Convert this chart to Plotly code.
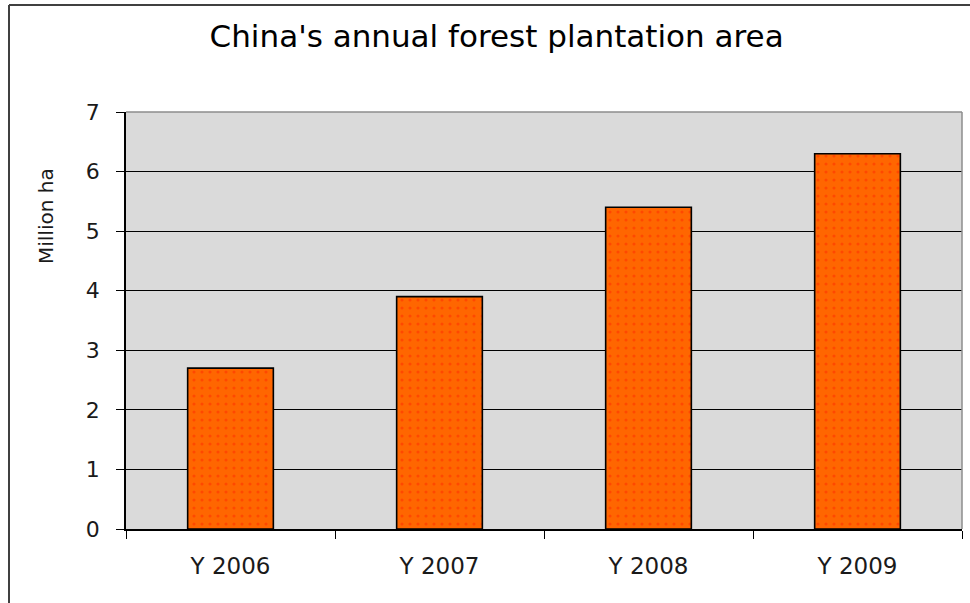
import plotly.graph_objects as go

categories = ["Y 2006", "Y 2007", "Y 2008", "Y 2009"]
values = [2.7, 3.9, 5.4, 6.3]
y_ticks = [0, 1, 2, 3, 4, 5, 6, 7]

fig = go.Figure()
fig.add_trace(go.Bar(
    x=categories, y=values,
    marker=dict(color="#FF6600", line=dict(color="#000000", width=1.6),
                pattern=dict(shape=".", fgcolor="#FF2A00", bgcolor="#FF6600", size=8, solidity=0.12)),
    width=0.41,
    hoverinfo="x+y",
))

pw, ph = 970 - 126 - 8, 603 - 112 - 74

fig.update_layout(
    width=970, height=603,
    margin=dict(l=126, r=8, t=112, b=74),
    paper_bgcolor="white",
    plot_bgcolor="#dadada",
    showlegend=False,
    title=dict(text="China's annual forest plantation area", x=0.512, xanchor="center",
               y=0.94, yanchor="middle",
               font=dict(family="DejaVu Sans", size=31, color="#000000")),
    xaxis=dict(showgrid=False, showline=True, linecolor="#000000", linewidth=1.5,
               ticks="outside", ticklen=8, tickcolor="#000000", tickson="boundaries",
               ticklabelstandoff=16,
               tickfont=dict(family="DejaVu Sans", size=23, color="#1a1a1a"),
               zeroline=False),
    yaxis=dict(range=[0, 7], tickvals=y_ticks, showgrid=True, gridcolor="#000000", gridwidth=1,
               showline=True, linecolor="#000000", linewidth=1.5,
               ticks="outside", ticklen=8, tickcolor="#000000",
               ticklabelstandoff=12,
               tickfont=dict(family="DejaVu Sans", size=22, color="#1a1a1a"),
               zeroline=False),
    annotations=[dict(text="Million ha", textangle=-90,
                      x=(46 - 126) / pw, y=(603 - 74 - 216) / ph, xref="paper", yref="paper",
                      xanchor="center", yanchor="middle",
                      showarrow=False, font=dict(family="DejaVu Sans", size=20, color="#1a1a1a"))],
)

# plot-area top/right border (gray) and outer chart frame
fig.add_shape(type="line", xref="paper", yref="paper", x0=0, x1=1, y0=1, y1=1,
              line=dict(color="#8c8c8c", width=1.5), layer="above")
fig.add_shape(type="line", xref="paper", yref="paper", x0=1, x1=1, y0=0, y1=1,
              line=dict(color="#8c8c8c", width=1.5), layer="above")
fig.add_shape(type="line", xref="paper", yref="paper",
              x0=(9 - 126) / pw, x1=(9 - 126) / pw, y0=(603 - 74 - 610) / ph, y1=(603 - 74 - 5) / ph,
              line=dict(color="#404040", width=2), layer="above")
fig.add_shape(type="line", xref="paper", yref="paper",
              x0=(9 - 126) / pw, x1=(975 - 126) / pw, y0=(603 - 74 - 5) / ph, y1=(603 - 74 - 5) / ph,
              line=dict(color="#404040", width=2), layer="above")

fig.write_html("out.html")
